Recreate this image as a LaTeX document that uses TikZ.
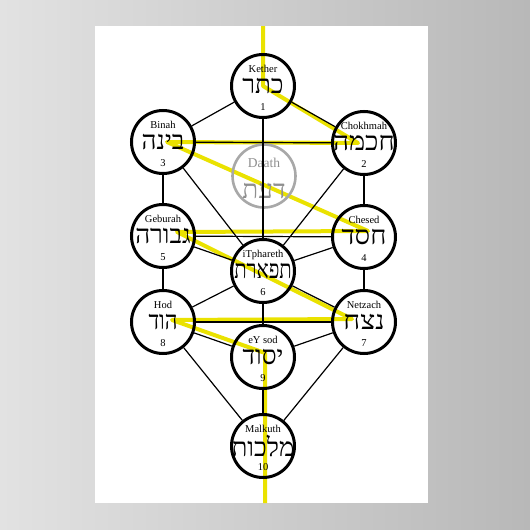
\documentclass[tikz,border=0pt]{standalone}
\usepackage{fontspec}
\setmainfont{Liberation Serif}
\newfontfamily\hebfont[Script=Hebrew]{Liberation Serif}
\TeXXeTstate=1
\usepackage{tikz}
\usetikzlibrary{backgrounds}
\definecolor{wallleft}{RGB}{226,226,226}
\definecolor{wallright}{RGB}{184,184,184}
\definecolor{flashyellow}{RGB}{234,226,0}
\definecolor{daathgray}{RGB}{168,168,168}
\tikzstyle{sefira} = [circle, minimum size=63pt, inner sep=0pt, line width=3pt, draw=black]
\tikzstyle{hiddensefira} = [sefira, draw=daathgray, line width=2.6pt]
\tikzstyle{latin} = [inner sep=0pt, font=\fontsize{10.5}{12}\selectfont]
\tikzstyle{hebrew} = [inner sep=0pt, font=\fontsize{26}{28}\hebfont]
\tikzstyle{channel} = [line width=1.2pt]
\tikzstyle{lightning} = [flashyellow, line width=4pt, line join=round]

% optional argument squeezes the hebrew word
\newcommand{\sefira}[6][1]{%
  \node (#2) [sefira] at (#3) {};
  \node (#2name) [latin, anchor=base] at ([yshift=14pt]#2.center) {#4};
  \node (#2heb) [hebrew] at (#2.center) {\scalebox{#1}[1]{\beginR #5\endR}};
  \node (#2num) [latin, anchor=base] at ([yshift=-24.5pt]#2.center) {#6};
}

\begin{document}
\begin{tikzpicture}[x=1pt, y=-1pt]
\useasboundingbox (0,0) rectangle (530,530);

% the ten sefirot
\sefira{kether}{263,86}{Kether}{כתר}{1}
\sefira[1.05]{chokhmah}{364,143}{Chokhmah}{חכמה}{2}
\sefira{binah}{163,142}{Binah}{בינה}{3}
\sefira[1.05]{chesed}{364,237}{Chesed}{חסד}{4}
\sefira{geburah}{163,236}{Geburah}{גבורה}{5}
\sefira[0.78]{tiphareth}{263,271}{iTphareth}{תפארת}{6}
\sefira[1.1]{netzach}{364,322}{Netzach}{נצח}{7}
\sefira[0.85]{hod}{163,322}{Hod}{הוד}{8}
\sefira{yesod}{263,357}{eY sod}{יסוד}{9}
\sefira{malkuth}{263,446}{Malkuth}{מלכות}{10}

% daath
\node (daath) [hiddensefira] at (264,176) {};
\node (daathname) [latin, anchor=base, font=\fontsize{13.5}{15}\selectfont, text=daathgray!85!black] at ([yshift=9pt]daath.center) {Daath};
\node (daathheb) [hebrew, text=daathgray!85!black] at ([yshift=-15pt]daath.center) {\beginR דעת\endR};

% the 22 paths
\draw [channel] (kether) -- (chokhmah);
\draw [channel] (kether) -- (binah);
\draw [channel] (kether) -- (tiphareth);
\draw [channel] (chokhmah) -- (binah);
\draw [channel] (chokhmah) -- (chesed);
\draw [channel] (chokhmah) -- (tiphareth);
\draw [channel] (binah) -- (geburah);
\draw [channel] (binah) -- (tiphareth);
\draw [channel] (chesed) -- (geburah);
\draw [channel] (chesed) -- (tiphareth);
\draw [channel] (chesed) -- (netzach);
\draw [channel] (geburah) -- (tiphareth);
\draw [channel] (geburah) -- (hod);
\draw [channel] (tiphareth) -- (netzach);
\draw [channel] (tiphareth) -- (hod);
\draw [channel] (tiphareth) -- (yesod);
\draw [channel] (netzach) -- (hod);
\draw [channel] (netzach) -- (yesod);
\draw [channel] (netzach) -- (malkuth);
\draw [channel] (hod) -- (yesod);
\draw [channel] (hod) -- (malkuth);
\draw [channel] (yesod) -- (malkuth);

\begin{pgfonlayer}{background}
% wall and poster
\shade [left color=wallleft, right color=wallright] (0,0) rectangle (530,530);
\fill [white] (95,26) rectangle (428,503);
\coordinate (postertop) at (263,26);
\coordinate (posterbottom) at (265,503);
% lightning flash
\draw [lightning] (postertop) -- (kether.center)
  -- ([xshift=-6pt]chokhmah.center) -- ([xshift=4pt]binah.center)
  -- ([xshift=4pt, yshift=6pt]chesed.center) -- ([xshift=14pt, yshift=4pt]geburah.center)
  -- ([xshift=-12pt, yshift=3pt]netzach.center) -- ([xshift=9pt, yshift=2pt]hod.center)
  -- ([xshift=2pt, yshift=4pt]yesod.center) -- (posterbottom);
\end{pgfonlayer}
\end{tikzpicture}
\end{document}
